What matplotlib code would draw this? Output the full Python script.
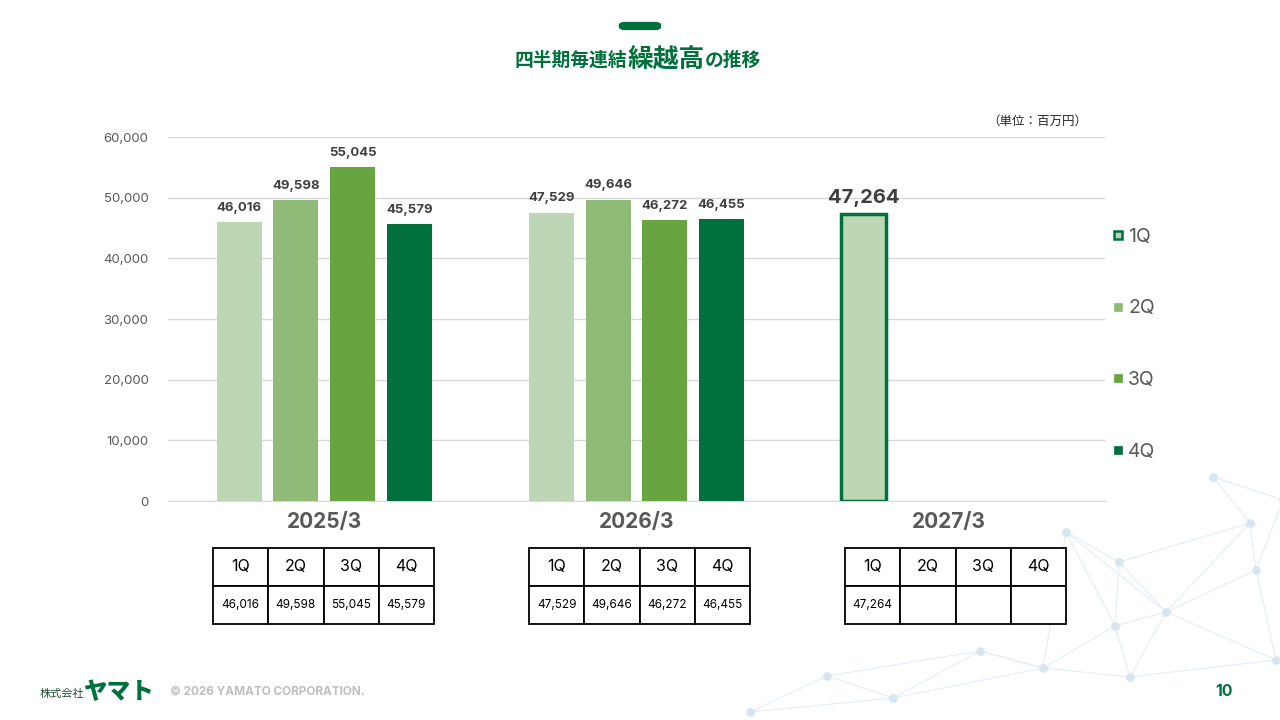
import matplotlib.pyplot as plt
from matplotlib.lines import Line2D
from matplotlib.patches import FancyBboxPatch

plt.rcParams['font.family'] = ['Inter', 'Noto Sans CJK JP', 'DejaVu Sans']

# data
years = ["2025/3", "2026/3", "2027/3"]
quarters = ["1Q", "2Q", "3Q", "4Q"]
q1 = [46016, 47529, 47264]
q2 = [49598, 49646, None]
q3 = [55045, 46272, None]
q4 = [45579, 46455, None]
series = [q1, q2, q3, q4]
colors = ["#BDD7B4", "#8FBA78", "#68A440", "#00703C"]
dark_green = "#00703C"
text_gray = "#595959"

W, H = 1280, 720
fig = plt.figure(figsize=(12.8, 7.2), dpi=100)


def px(x, y):
    return x / W, 1 - y / H


# decorative network in the lower right
nodes = [(1213, 477), (1250, 523), (1256, 570), (1066, 532), (1119, 562),
         (1166, 612), (1115, 626), (1043, 668), (1130, 677), (1276, 660),
         (980, 651), (827, 676), (893, 698), (750, 712), (1283, 500)]
edges = [(0, 1), (0, 14), (1, 2), (1, 5), (1, 4), (2, 5), (2, 9), (3, 4), (3, 5),
         (3, 6), (3, 7), (4, 5), (4, 6), (5, 6), (5, 8), (5, 9), (6, 7), (6, 8),
         (7, 8), (7, 10), (10, 11), (10, 12), (11, 12), (11, 13), (12, 13),
         (8, 9), (2, 14), (7, 12), (10, 7)]
bg = fig.add_axes([0, 0, 1, 1], zorder=-5)
bg.set_xlim(0, W)
bg.set_ylim(H, 0)
bg.axis("off")
for a, b in edges:
    bg.plot([nodes[a][0], nodes[b][0]], [nodes[a][1], nodes[b][1]],
            color="#E3EEF5", lw=0.8, zorder=1)
bg.scatter([n[0] for n in nodes], [n[1] for n in nodes], s=28,
           color="#D6E6F1", zorder=2)

# title
fig.patches.append(FancyBboxPatch(px(622, 28), 36 / W, 4 / H,
                                  boxstyle="round,pad=0.002,rounding_size=0.004",
                                  transform=fig.transFigure, color=dark_green))
tx, ty = px(515, 60)
t1 = fig.text(tx, ty, "四半期毎連結", fontsize=13.5, fontweight="bold",
              color=dark_green, va="center", ha="left",
              family=["Noto Sans CJK JP"])
fig.canvas.draw()
bb = t1.get_window_extent()
t2 = fig.text(bb.x1 / W, ty, "繰越高", fontsize=18.5, fontweight="bold",
              color=dark_green, va="center", ha="left",
              family=["Noto Sans CJK JP"])
bb2 = t2.get_window_extent(fig.canvas.get_renderer())
fig.text(bb2.x1 / W, ty, "の推移", fontsize=13.5, fontweight="bold",
         color=dark_green, va="center", ha="left", family=["Noto Sans CJK JP"])

fig.text(*px(1087, 121), "（単位：百万円）", fontsize=9, color="#262626",
         ha="right", va="center", family=["Noto Sans CJK JP"])

# chart
ax = fig.add_axes([168 / W, (H - 501) / H, 937 / W, 364 / H])
step, width = 0.1817, 0.144
for qi, vals in enumerate(series):
    for gi, v in enumerate(vals):
        if v is None:
            continue
        x = gi + (qi - 1.5) * step
        if gi == 2:
            ax.bar(x, v, width, color=colors[qi], edgecolor=dark_green,
                   linewidth=2.5, zorder=3)
            ax.annotate(f"{v:,}", (x, v), xytext=(0, 5), textcoords="offset points",
                        ha="center", va="bottom", fontsize=14.5, fontweight="bold",
                        color="#404040")
        else:
            ax.bar(x, v, width, color=colors[qi], zorder=3)
            ax.annotate(f"{v:,}", (x, v), xytext=(0, 6), textcoords="offset points",
                        ha="center", va="bottom", fontsize=9.5, fontweight="bold",
                        color="#404040")

ax.set_xlim(-0.5, 2.5)
ax.set_ylim(0, 60000)
ax.set_yticks(range(0, 60001, 10000))
ax.set_yticklabels([f"{v:,}" for v in range(0, 60001, 10000)])
ax.tick_params(axis="y", length=0, pad=14, labelsize=9.5, labelcolor=text_gray)
ax.set_xticks(range(len(years)))
ax.set_xticklabels(years)
ax.tick_params(axis="x", length=0, pad=8, labelsize=15, labelcolor=text_gray)
for lbl in ax.get_xticklabels():
    lbl.set_fontweight("bold")
ax.grid(axis="y", color="#D9D9D9", lw=1, zorder=0)
for s in ["top", "right", "left"]:
    ax.spines[s].set_visible(False)
ax.spines["bottom"].set_color("#D9D9D9")
ax.patch.set_alpha(0)

# legend
handles = []
for qi, c in enumerate(colors):
    ec = dark_green if qi == 0 else c
    handles.append(Line2D([], [], marker="s", linestyle="none", markersize=6,
                          markerfacecolor=c, markeredgecolor=ec,
                          markeredgewidth=1.8 if qi == 0 else 0.5))
leg = fig.legend(handles, quarters, loc="upper left",
                 bbox_to_anchor=px(1104, 220), frameon=False, fontsize=14,
                 labelspacing=2.76, handlelength=0.6, handletextpad=0.25,
                 borderaxespad=0)
for t in leg.get_texts():
    t.set_color(text_gray)

# tables under each year
table_lefts = [213, 529, 845]
for gi, left in enumerate(table_lefts):
    tax = fig.add_axes([left / W, (H - 624) / H, 221 / W, 76 / H])
    tax.axis("off")
    row = []
    for vals in series:
        v = vals[gi]
        row.append(f"{v:,}" if v is not None else "")
    tb = tax.table(cellText=[quarters, row], cellLoc="center", bbox=[0, 0, 1, 1])
    tb.auto_set_font_size(False)
    for (r, c), cell in tb.get_celld().items():
        cell.set_edgecolor("#000000")
        cell.set_linewidth(1.3)
        cell.set_facecolor("white")
        cell.get_text().set_fontsize(11.5 if r == 0 else 8.5)
        cell.get_text().set_color("#000000")
        cell.get_text().set_family(["Inter", "DejaVu Sans"])

# footer
fig.text(*px(40, 694), "株式会社", fontsize=8, color="#1E4D2B",
         ha="left", va="center", family=["Noto Sans CJK JP"])
fig.text(*px(83, 692), "ヤマト", fontsize=17, fontweight="black",
         color=dark_green, ha="left", va="center", family=["Noto Sans CJK JP"])
fig.text(*px(170, 692), "© 2026 YAMATO CORPORATION.", fontsize=8.5,
         color="#BFBFBF", ha="left", va="center", fontweight="bold")
fig.text(*px(1233, 692), "10", fontsize=11.5, color=dark_green,
         ha="right", va="center", fontweight="bold")

fig.savefig("out.png", dpi=100)
